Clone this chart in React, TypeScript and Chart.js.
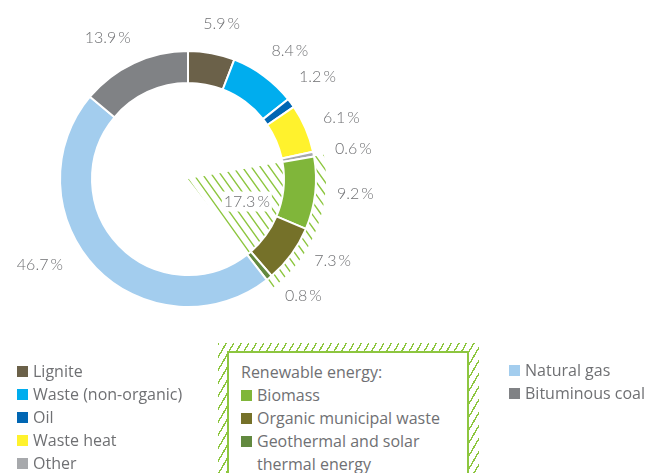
import React, { useEffect, useRef } from "react";
import { Chart, registerables } from "chart.js";

Chart.register(...registerables);

// ---- data ----
const categories = [
  "Lignite",
  "Waste (non-organic)",
  "Oil",
  "Waste heat",
  "Other",
  "Biomass",
  "Organic municipal waste",
  "Geothermal and solar thermal energy",
  "Natural gas",
  "Bituminous coal",
];
const shares = [5.9, 8.4, 1.2, 6.1, 0.6, 9.2, 7.3, 0.8, 46.7, 13.9];
const renewableShare = 17.3;
const renewableIdx = [5, 6, 7];
const leftLegendIdx = [0, 1, 2, 3, 4];
const rightLegendIdx = [8, 9];
const renewableTitle = "Renewable energy:";

// ---- styles ----
const colors = [
  "#6b6149",
  "#00adee",
  "#0066b3",
  "#fff22d",
  "#a7a9ac",
  "#80b63a",
  "#757129",
  "#62893f",
  "#a3cdee",
  "#808285",
];
const hatchColor = "#8dc63f";
const textColor = "#6f7073";
// per-label angle shift (deg) and distance from centre (px)
const labelShift = [1.6, 2.1, -1.9, 1.6, 0.9, -1.4, -6.7, -5.3, 14, -4.7];
const labelDist = [159, 164, 165, 165, 168, 168, 166, 164, 171, 162];

const pctText = (v: number) => `${v.toFixed(1)}\u2009%`;
const labelFont = "300 16px Lato, 'Open Sans', sans-serif";

const hatchWedgePlugin = {
  id: "hatchWedge",
  beforeDatasetsDraw(chart: any) {
    const meta = chart.getDatasetMeta(0);
    const first = meta.data[renewableIdx[0]];
    const last = meta.data[renewableIdx[renewableIdx.length - 1]];
    if (!first || !last) return;
    const { x, y, outerRadius, startAngle } = first.getProps(
      ["x", "y", "outerRadius", "startAngle"],
      true
    );
    const { endAngle } = last.getProps(["endAngle"], true);
    const ctx = chart.ctx;
    ctx.save();
    ctx.beginPath();
    ctx.moveTo(x, y);
    ctx.arc(x, y, outerRadius + 10, startAngle, endAngle);
    ctx.closePath();
    ctx.clip();
    ctx.strokeStyle = hatchColor;
    ctx.lineWidth = 1.4;
    const s = 1.4;
    ctx.beginPath();
    for (let k = -450; k <= 450; k += 9) {
      const L = 200;
      ctx.moveTo(x + k - L, y - s * L);
      ctx.lineTo(x + k + L, y + s * L);
    }
    ctx.stroke();
    // white backdrop for the total label
    const a = (startAngle + endAngle) / 2;
    const lx = x + 63 * Math.cos(a);
    const ly = y + 63 * Math.sin(a);
    ctx.font = labelFont;
    const w = ctx.measureText(pctText(renewableShare)).width;
    ctx.fillStyle = "#ffffff";
    ctx.fillRect(lx - w / 2 - 2, ly - 10, w + 4, 20);
    ctx.restore();
  },
};

const labelPlugin = {
  id: "pctLabels",
  afterDatasetsDraw(chart: any) {
    const meta = chart.getDatasetMeta(0);
    const ctx = chart.ctx;
    ctx.save();
    ctx.fillStyle = textColor;
    ctx.font = labelFont;
    ctx.textAlign = "center";
    ctx.textBaseline = "middle";
    meta.data.forEach((arc: any, i: number) => {
      const { x, y, startAngle, endAngle } = arc.getProps(
        ["x", "y", "startAngle", "endAngle"],
        true
      );
      const a = (startAngle + endAngle) / 2 + (labelShift[i] * Math.PI) / 180;
      const r = labelDist[i];
      ctx.fillText(pctText(shares[i]), x + r * Math.cos(a), y + r * Math.sin(a));
    });
    // renewable total inside the wedge
    const first = meta.data[renewableIdx[0]];
    const last = meta.data[renewableIdx[renewableIdx.length - 1]];
    if (first && last) {
      const { x, y, startAngle } = first.getProps(["x", "y", "startAngle"], true);
      const { endAngle } = last.getProps(["endAngle"], true);
      const a = (startAngle + endAngle) / 2;
      ctx.fillText(pctText(renewableShare), x + 63 * Math.cos(a), y + 63 * Math.sin(a));
    }
    ctx.restore();
  },
};

const legendFont: React.CSSProperties = {
  fontFamily: "'Open Sans', 'Noto Sans', sans-serif",
  fontSize: 16,
  color: textColor,
  lineHeight: "23px",
};

function LegendItem({ i, textWidth }: { i: number; textWidth?: number }) {
  return (
    <div style={{ display: "flex", alignItems: "flex-start" }}>
      <span
        style={{
          display: "inline-block",
          width: 11,
          height: 11,
          background: colors[i],
          marginTop: 6,
          marginRight: 5,
          flex: "0 0 auto",
        }}
      />
      <span style={{ width: textWidth, whiteSpace: textWidth ? "normal" : "nowrap" }}>
        {categories[i]}
      </span>
    </div>
  );
}

export default function App() {
  const canvasRef = useRef<HTMLCanvasElement | null>(null);

  useEffect(() => {
    const canvas = canvasRef.current;
    if (!canvas) return;
    const chart = new Chart(canvas, {
      type: "doughnut",
      data: {
        labels: categories,
        datasets: [
          {
            data: shares,
            backgroundColor: colors,
            borderColor: "#ffffff",
            borderWidth: 2,
          },
        ],
      },
      options: {
        responsive: false,
        maintainAspectRatio: false,
        animation: false,
        radius: 128,
        cutout: "75%",
        layout: { padding: { left: 0, right: 274, top: 0, bottom: 115 } },
        plugins: {
          legend: { display: false },
          tooltip: { enabled: false },
        },
      },
      plugins: [hatchWedgePlugin, labelPlugin],
    } as any);
    return () => chart.destroy();
  }, []);

  return (
    <div
      style={{
        position: "absolute",
        left: 0,
        top: 0,
        width: 650,
        height: 473,
        overflow: "hidden",
        background: "#fff",
      }}
    >
      <canvas
        ref={canvasRef}
        width={650}
        height={473}
        style={{ position: "absolute", left: 0, top: 0, width: 650, height: 473 }}
      />
      <div style={{ position: "absolute", left: 17, top: 360, ...legendFont }}>
        {leftLegendIdx.map((i) => (
          <LegendItem key={i} i={i} />
        ))}
      </div>
      <div
        style={{
          position: "absolute",
          left: 218,
          top: 343,
          width: 261,
          height: 200,
          background: `repeating-linear-gradient(120deg, ${hatchColor} 0px, ${hatchColor} 1.4px, transparent 1.4px, transparent 6.5px)`,
        }}
      >
        <div
          style={{
            position: "absolute",
            left: 9,
            top: 8,
            width: 242,
            height: 200,
            background: "#fff",
            border: `2px solid ${hatchColor}`,
            boxSizing: "border-box",
          }}
        >
          <div style={{ position: "absolute", left: 12, top: 8, ...legendFont }}>
            <div>{renewableTitle}</div>
            {renewableIdx.map((i) => (
              <LegendItem key={i} i={i} textWidth={205} />
            ))}
          </div>
        </div>
      </div>
      <div style={{ position: "absolute", left: 509, top: 359, ...legendFont }}>
        {rightLegendIdx.map((i) => (
          <LegendItem key={i} i={i} />
        ))}
      </div>
    </div>
  );
}
